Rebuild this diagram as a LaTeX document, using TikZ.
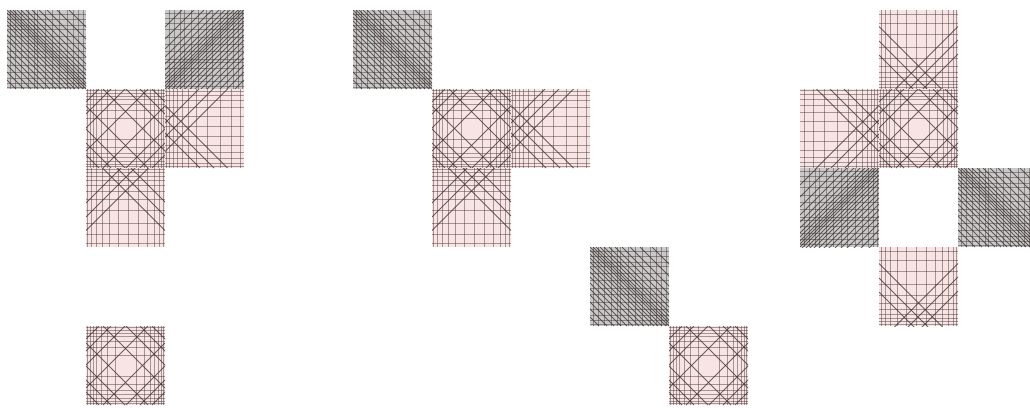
\documentclass[tikz,border=0pt]{standalone}
\usepackage{tikz}
\usepackage{xcolor}
\definecolor{tilepink}{HTML}{F8E4E4}
\definecolor{tilegray}{HTML}{C9C9C9}
\definecolor{inkc}{HTML}{3E3232}
\tikzset{
  pinkfill/.style={fill=tilepink},
  grayfill/.style={fill=tilegray},
  hatch/.style={draw=inkc, line width=0.5pt, opacity=0.75},
  fine/.style={draw=inkc, line width=0.3pt, opacity=0.45},
}
% pink tile, pattern round its middle
\newcommand{\centretile}[2]{%
\begin{scope}[shift={(#1,#2)}]
\fill[pinkfill] (0,0) rectangle (79,79);
\clip (0,0) rectangle (79,79);
\foreach \p in {1.5,4,7,10.5,15,21,29,50,58,64,68.5,72,75,77.5}{
  \draw[fine] (\p,0) -- (\p,79);
  \draw[fine] (0,\p) -- (79,\p);
}
\foreach \c in {-66,-54,-40,-17,17,40,54,66}{
  \draw[hatch] (\c,0) -- ++(79,79);
  \draw[hatch] (79+\c,0) -- ++(-79,79);
}
\end{scope}}
% pink tile leaning on one side (#3 = turn)
\newcommand{\edgetile}[3]{%
\begin{scope}[shift={(#1,#2)}, rotate around={#3:(39.5,39.5)}]
\fill[pinkfill] (0,0) rectangle (79,79);
\clip (0,0) rectangle (79,79);
\foreach \p in {1.5,4.5,8,12,17,23,31,42,55,66,75}
  \draw[fine] (\p,0) -- (\p,79);
\foreach \p in {2,6,11,18,27,37,47,56,63,69,74,77.5}
  \draw[fine] (0,\p) -- (79,\p);
\foreach \c in {-44,-30,-16.5}
  \draw[hatch] (\c,0) -- ++(79,79);
\foreach \c in {34,48,62.5}
  \draw[hatch] (\c,0) -- ++(-79,79);
\end{scope}}
% grey tile with one run of slants
\newcommand{\darktile}[3]{%
\begin{scope}[shift={(#1,#2)}, rotate around={#3:(39.5,39.5)}]
\fill[grayfill] (0,0) rectangle (79,79);
\clip (0,0) rectangle (79,79);
\foreach \p in {3,8,14,21,27,30,38,45,52,60,66,71,76}
  \draw[fine] (\p,0) -- (\p,79);
\foreach \p in {4,9,15,19,26,33,41,47,55,62,68,73,77}
  \draw[fine] (0,\p) -- (79,\p);
\foreach \c in {-70,-62,-55,-48,-42,-36,-30,-25,-20,-15,-11,-7,-3,0,3,6,10,14,19,25,32,40,50,62}
  \draw[hatch] (\c,0) -- ++(79,79);
\end{scope}}

\begin{document}
\begin{tikzpicture}[x=0.02cm, y=-0.02cm]
\useasboundingbox (0,0) rectangle (1030,407);
\clip (0,0) rectangle (1030,407);

% first group
\darktile{7}{10}{0}
\darktile{165}{10}{90}
\centretile{86}{89}
\edgetile{165}{89}{0}
\edgetile{86}{168}{-90}
\centretile{86}{326}

% second group
\darktile{353}{10}{0}
\centretile{432}{89}
\edgetile{511}{89}{0}
\edgetile{432}{168}{-90}
\darktile{590}{247}{0}
\centretile{669}{326}

% third group
\edgetile{879}{10}{90}
\edgetile{800}{89}{180}
\centretile{879}{89}
\darktile{800}{168}{90}
\darktile{958}{168}{0}
\edgetile{879}{247}{90}
\end{tikzpicture}
\end{document}
